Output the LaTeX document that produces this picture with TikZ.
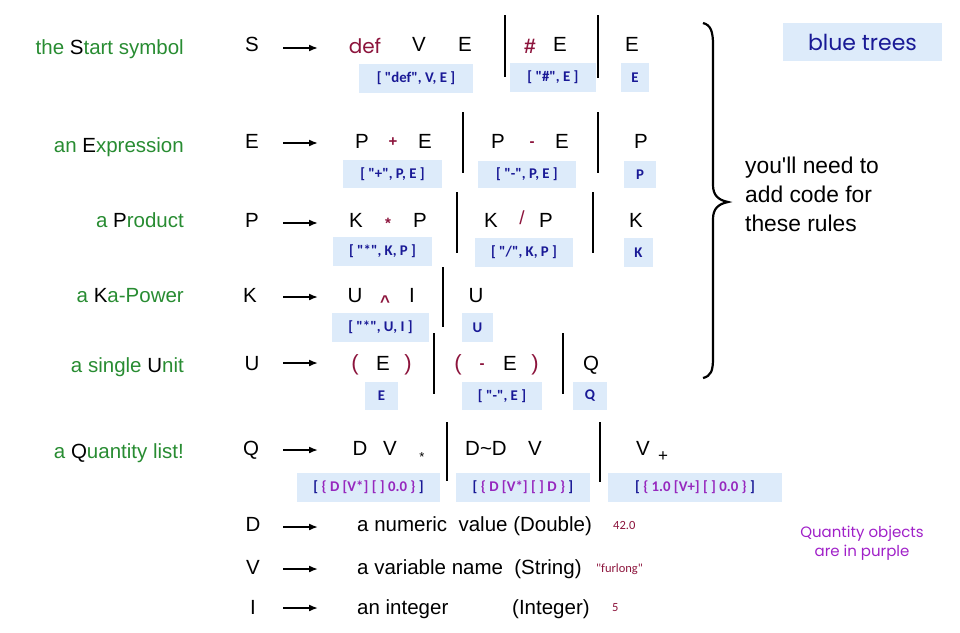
\documentclass[tikz,border=0pt]{standalone}
\usepackage{fontspec}
\setmainfont{Liberation Sans}
\newfontfamily\treefont{Carlito}
\newfontfamily\comicfont{Poppins}
\usetikzlibrary{arrows.meta}

\definecolor{lblgreen}{RGB}{40,140,50}
\definecolor{opred}{RGB}{140,20,60}
\definecolor{treefill}{RGB}{221,235,250}
\definecolor{treeblue}{RGB}{25,25,150}
\definecolor{qpurple}{RGB}{150,40,190}
\definecolor{noteviolet}{RGB}{160,32,200}

\tikzset{
  sym/.style={anchor=base, inner sep=0pt, font=\fontsize{20.5}{24}\selectfont},
  lbl/.style={sym, anchor=base east, text=lblgreen},
  op/.style={sym, text=opred, font=\bfseries\fontsize{15}{18}\selectfont},
  tree/.style={fill=treefill, text=treeblue, inner sep=0pt, minimum height=29pt,
    font=\treefont\bfseries\fontsize{14.8}{16}\selectfont},
  val/.style={anchor=base west, inner sep=0pt, text=opred,
    font=\treefont\fontsize{12.5}{15}\selectfont},
  bar/.style={line width=2pt},
  arr/.style={-{Latex[length=9pt,width=7pt]}, line width=1.7pt},
}

\begin{document}
\begin{tikzpicture}[x=1pt,y=-1pt]
    \useasboundingbox (0,0) rectangle (960,632);

    % what each symbol stands for
    \node[lbl] (lS) at (184,54) {the {\color{black}S}tart symbol};
    \node[lbl] (lE) at (184,152) {an {\color{black}E}xpression};
    \node[lbl] (lP) at (184,227) {a {\color{black}P}roduct};
    \node[lbl] (lK) at (184,302) {a {\color{black}K}a-Power};
    \node[lbl] (lU) at (184,372) {a single {\color{black}U}nit};
    \node[lbl] (lQ) at (184,458) {a {\color{black}Q}uantity list!};

    % left-hand sides
    \node[sym] (nS) at (252,51) {S};
    \node[sym] (nE) at (252,148) {E};
    \node[sym] (nP) at (252,227) {P};
    \node[sym] (nK) at (250,302) {K};
    \node[sym] (nU) at (252,370) {U};
    \node[sym] (nQ) at (251,455) {Q};
    \node[sym] (nD) at (253,531) {D};
    \node[sym] (nV) at (253,574) {V};
    \node[sym] (nI) at (253,614) {I};

    \foreach \y in {48,143,223,297,363,450,527,569,608}
        \draw[arr] (283,\y) -- (318,\y);

    % S
    \node[sym, text=opred, font=\comicfont\fontsize{20}{24}\selectfont] (sDef) at (365,53) {def};
    \node[sym] (sV) at (419,51) {V};
    \node[sym] (sE1) at (465,51) {E};
    \node[sym, text=opred, font=\bfseries\fontsize{21}{24}\selectfont] (sHash) at (530,53) {\#};
    \node[sym] (sE2) at (560,51) {E};
    \node[sym] (sE3) at (632,51) {E};
    \draw[bar] (505,15) -- (505,77);
    \draw[bar] (598,15) -- (598,78);
    \node[tree, minimum width=114pt] (tS1) at (416,78) {[ "def", V, E ]};
    \node[tree, minimum width=86pt] (tS2) at (553,77.5) {[ "\#", E ]};
    \node[tree, minimum width=28pt] (tS3) at (635,77.5) {E};

    % E
    \node[sym] (eP1) at (362,148) {P};
    \node[op] (ePlus) at (393,146) {+};
    \node[sym] (eE1) at (425,148) {E};
    \node[sym] (eP2) at (498,148) {P};
    \node[op] (eMinus) at (532,146) {-};
    \node[sym] (eE2) at (562,148) {E};
    \node[sym] (eP3) at (641,148) {P};
    \draw[bar] (463,112) -- (463,173);
    \draw[bar] (598,112) -- (598,173);
    \node[tree, minimum width=99pt, minimum height=28pt] (tE1) at (392.5,174) {[ "+", P, E ]};
    \node[tree, minimum width=98pt, minimum height=27pt] (tE2) at (527,174.5) {[ "-", P, E ]};
    \node[tree, minimum width=32pt, minimum height=27pt] (tE3) at (640,174.5) {P};

    % P
    \node[sym] (pK1) at (356,227) {K};
    \node[op] (pStar) at (388,228) {*};
    \node[sym] (pP1) at (420,227) {P};
    \node[sym] (pK2) at (491,227) {K};
    \node[sym, text=opred, font=\fontsize{19}{24}\selectfont] (pSlash) at (522,224) {/};
    \node[sym] (pP2) at (546,227) {P};
    \node[sym] (pK3) at (636,227) {K};
    \draw[bar] (457,192) -- (457,253);
    \draw[bar] (593,192) -- (593,253);
    \node[tree, minimum width=99pt] (tP1) at (382.5,251.5) {[ "*", K, P ]};
    \node[tree, minimum width=98pt] (tP2) at (524,252.5) {[ "/", K, P ]};
    \node[tree, minimum width=29pt] (tP3) at (638.5,252.5) {K};

    % K
    \node[sym] (kU1) at (355,302) {U};
    \node[op, font=\bfseries\fontsize{17}{18}\selectfont] (kHat) at (385,307) {\textasciicircum};
    \node[sym] (kI) at (412,302) {I};
    \node[sym] (kU2) at (476,302) {U};
    \draw[bar] (443,267) -- (443,327);
    \node[tree, minimum width=97pt] (tK1) at (380.5,327.5) {[ "*", U, I ]};
    \node[tree, minimum width=31pt] (tK2) at (477.5,327.5) {U};

    % U
    \node[sym, text=opred, font=\fontsize{22}{24}\selectfont] (uOpen1) at (355,370) {(};
    \node[sym] (uE1) at (383,370) {E};
    \node[sym, text=opred, font=\fontsize{22}{24}\selectfont] (uClose1) at (408,370) {)};
    \node[sym, text=opred, font=\fontsize{22}{24}\selectfont] (uOpen2) at (458,370) {(};
    \node[op] (uMinus) at (482,368) {-};
    \node[sym] (uE2) at (510,370) {E};
    \node[sym, text=opred, font=\fontsize{22}{24}\selectfont] (uClose2) at (535,370) {)};
    \node[sym] (uQ) at (591,370) {Q};
    \draw[bar] (434,333) -- (434,394);
    \draw[bar] (563,333) -- (563,394);
    \node[tree, minimum width=33pt, minimum height=28pt] (tU1) at (381.5,396) {E};
    \node[tree, minimum width=80pt, minimum height=28pt] (tU2) at (502,396) {[ "-", E ]};
    \node[tree, minimum width=34pt, minimum height=28pt] (tU3) at (590,396) {Q};

    % Q
    \node[sym] (qD1) at (360,455) {D};
    \node[sym] (qV1) at (390,455) {V};
    \node[sym, font=\fontsize{13}{15}\selectfont] (qStar) at (422,461) {*};
    \node[sym] (qDD) at (486,455) {D\textasciitilde D};
    \node[sym] (qV2) at (535,455) {V};
    \node[sym] (qV3) at (643,455) {V};
    \node[sym, font=\fontsize{17}{18}\selectfont] (qPlus) at (663,461) {+};
    \draw[bar] (447,422) -- (447,481);
    \draw[bar] (600,422) -- (600,482);
    \node[tree, minimum width=143pt] (tQ1) at (368.5,487.5) {[ {\color{qpurple}\{ D [V*] [ ] 0.0 \}} ]};
    \node[tree, minimum width=134pt] (tQ2) at (523,487.5) {[ {\color{qpurple}\{ D [V*] [ ] D \}} ]};
    \node[tree, minimum width=174pt] (tQ3) at (695,487.5) {[ {\color{qpurple}\{ 1.0 [V+] [ ] 0.0 \}} ]};

    % D, V, I
    \node[sym, anchor=base west] (dTxt) at (357,531) {a numeric\ \ value (Double)};
    \node[sym, anchor=base west] (vTxt) at (357,574) {a variable name\ \ (String)};
    \node[sym, anchor=base west] (iTxt) at (357,614) {an integer};
    \node[sym, anchor=base west] (iType) at (512,614) {(Integer)};
    \node[val] (dVal) at (613,529) {42.0};
    \node[val] (vVal) at (596,572) {"furlong"};
    \node[val] (iVal) at (612,611) {5};

    % right side
    \draw[line width=2.2pt] (703,23) .. controls (711,25) and (713,32) .. (713,45)
        -- (713,185) .. controls (713,195) and (718,200) .. (728,202)
        .. controls (718,204) and (713,209) .. (713,219)
        -- (713,358) .. controls (713,371) and (711,376) .. (703,378);
    \node[sym, anchor=base west, font=\fontsize{22.8}{26}\selectfont] (need1) at (745,173) {you\textquotesingle ll need to};
    \node[sym, anchor=base west, font=\fontsize{22.8}{26}\selectfont] (need2) at (745,202) {add code for};
    \node[sym, anchor=base west, font=\fontsize{22.8}{26}\selectfont] (need3) at (745,231) {these rules};
    \node[tree, minimum width=159pt, minimum height=38pt,
        font=\comicfont\fontsize{22}{24}\selectfont] (blueTrees) at (862.5,42) {blue trees};
    \node[align=center, text=noteviolet, inner sep=0pt,
        font=\comicfont\fontsize{15}{19.5}\selectfont] (qNote) at (862,543) {Quantity objects\\are in purple};
\end{tikzpicture}
\end{document}
